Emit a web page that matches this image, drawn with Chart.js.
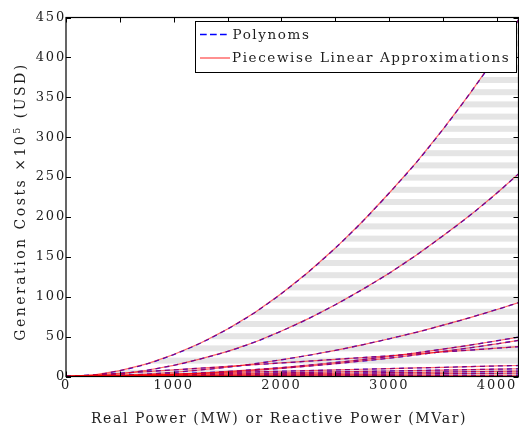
<!DOCTYPE html>
<html>
<head>
<meta charset="utf-8">
<script src="https://cdn.jsdelivr.net/npm/chart.js@4/dist/chart.umd.min.js"></script>
<style>
  html, body { margin: 0; padding: 0; background: #fff; }
  #wrap { width: 519px; height: 429px; }
</style>
</head>
<body>
<div id="wrap"><canvas id="cost" width="519" height="429"></canvas></div>
<script>
// Output levels (MW or MVar) at which each cost curve is sampled
const POWER = [0, 250, 500, 750, 1000, 1250, 1500, 1750, 2000, 2250, 2500, 2750, 3000, 3250, 3500, 3750, 4000, 4200];

// Generation costs (x10^5 USD) for each unit
const GEN_1  = [0, 1.7, 7.4, 15.8, 27.5, 42, 59.5, 80, 104, 131, 161, 194, 230, 268, 310, 355, 403, 447];
const GEN_2  = [0, 0.8, 3.4, 7.8, 14, 22, 31.5, 43, 57, 72.5, 90, 109, 129.5, 152, 176.5, 202, 230, 254];
const GEN_3  = [0, 0.3, 1.3, 3, 5.3, 8.2, 11.8, 16, 21, 26.6, 32.8, 39.7, 47.3, 55.4, 64.3, 73.8, 84, 92.6];
const GEN_4  = [0, 0.2, 0.7, 1.6, 2.8, 4.4, 6.3, 8.6, 11.2, 14.2, 17.5, 21.2, 25.2, 29.6, 34.3, 39.4, 44.8, 49.4];
const GEN_5  = [0, 0.2, 0.6, 1.4, 2.6, 4, 5.8, 7.8, 10.2, 13, 16, 19.4, 23, 27, 31.4, 36, 41, 45.2];
const GEN_6  = [0, 2, 4.1, 6.2, 8.3, 10.4, 12.6, 14.8, 17, 19.2, 21.5, 23.7, 26, 28.4, 30.8, 33.1, 35.5, 37.4];
const GEN_7  = [0, 0.8, 1.6, 2.5, 3.3, 4.1, 4.9, 5.8, 6.6, 7.4, 8.2, 9.1, 9.9, 10.7, 11.5, 12.4, 13.2, 13.8];
const GEN_8  = [0, 0.6, 1.2, 1.7, 2.3, 2.9, 3.5, 4, 4.6, 5.2, 5.8, 6.3, 6.9, 7.5, 8.1, 8.6, 9.2, 9.7];
const GEN_9  = [0, 0.4, 0.8, 1.2, 1.6, 2, 2.4, 2.8, 3.2, 3.6, 4, 4.4, 4.8, 5.2, 5.6, 6, 6.4, 6.7];
const GEN_10 = [0, 0.25, 0.5, 0.75, 1, 1.25, 1.5, 1.75, 2, 2.25, 2.5, 2.75, 3, 3.25, 3.5, 3.75, 4, 4.2];
const GEN_11 = [1, 1, 1.05, 1.1, 1.1, 1.15, 1.2, 1.2, 1.25, 1.3, 1.3, 1.35, 1.4, 1.4, 1.45, 1.5, 1.5, 1.55];
const GEN_12 = [0, 0.1, 0.1, 0.1, 0.1, 0.1, 0.1, 0.1, 0.1, 0.1, 0.1, 0.1, 0.1, 0.1, 0.1, 0.1, 0.1, 0.1];

const CURVES = [GEN_1, GEN_2, GEN_3, GEN_4, GEN_5, GEN_6, GEN_7, GEN_8, GEN_9, GEN_10, GEN_11, GEN_12];

// Axis ranges and ticks
const X_MAX = 4200;
const X_TICKS = [0, 500, 1000, 1500, 2000, 2500, 3000, 3500, 4000];
const X_LABELS = [0, 1000, 2000, 3000, 4000];
const Y_MAX = 450;
const Y_TICKS = [0, 50, 100, 150, 200, 250, 300, 350, 400, 450];

// Texts
const LEGEND_POLY = 'Polynoms';
const LEGEND_PWL = 'Piecewise Linear Approximations';
const X_TITLE = 'Real Power (MW) or Reactive Power (MVar)';
const Y_TITLE_PARTS = ['Generation Costs \u00d710', '5', ' (USD)'];

// Styles
const FONT = '"DejaVu Serif", "Liberation Serif", serif';
const TEXT_COLOR = '#1e1e1e';
const POLY_COLOR = '#0000ff';
const POLY_DASH = [5, 4];
const PWL_COLOR = 'rgba(255,0,0,0.58)';
const TICK_SPACING = '1.8px';

function stripePattern() {
  const c = document.createElement('canvas');
  c.width = 4; c.height = 61;
  const g = c.getContext('2d');
  g.fillStyle = 'rgb(229,229,229)';
  for (let k = 0; k < 5; k++) {
    const y0 = (16 + 12.2 * k) % 61;
    g.fillRect(0, y0, 4, 6);
    if (y0 + 6 > 61) g.fillRect(0, y0 - 61, 4, 6);
  }
  return g.createPattern(c, 'repeat');
}

const pts = vals => POWER.map((p, i) => ({ x: p, y: vals[i] }));

const datasets = [];
CURVES.forEach(v => datasets.push({
  label: LEGEND_PWL, data: pts(v), borderColor: PWL_COLOR, borderWidth: 1.2,
  pointRadius: 0, tension: 0, fill: false, order: 0
}));
CURVES.forEach(v => datasets.push({
  label: LEGEND_POLY, data: pts(v), borderColor: POLY_COLOR, borderWidth: 1.3,
  borderDash: POLY_DASH, pointRadius: 0, cubicInterpolationMode: 'monotone', fill: false, order: 1
}));
// light banded shading underneath the highest cost curve
datasets.push({
  label: 'band', data: pts(GEN_1), borderColor: 'rgba(0,0,0,0)', borderWidth: 1,
  pointRadius: 0, tension: 0, fill: 'origin', backgroundColor: stripePattern(), order: 2
});

function spacedText(ctx, text, x, y, font, spacing, align, baseline) {
  ctx.font = font;
  ctx.letterSpacing = spacing;
  ctx.textAlign = align;
  ctx.textBaseline = baseline;
  ctx.fillText(text, x, y);
}

const decorations = {
  id: 'decorations',
  beforeDraw(chart) { chart.ctx.letterSpacing = TICK_SPACING; },
  beforeDatasetsDraw(chart) { chart.ctx.letterSpacing = '0px'; },
  afterDatasetsDraw(chart) {
    const { ctx, chartArea: a, scales: { x, y } } = chart;
    ctx.save();
    ctx.strokeStyle = '#000';
    ctx.lineWidth = 1;
    ctx.beginPath();
    x.ticks.forEach(t => {
      const px = Math.round(x.getPixelForValue(t.value)) + 0.5;
      ctx.moveTo(px, a.bottom); ctx.lineTo(px, a.bottom - 5);
      ctx.moveTo(px, a.top); ctx.lineTo(px, a.top + 5);
    });
    y.ticks.forEach(t => {
      const py = Math.round(y.getPixelForValue(t.value)) + 0.5;
      ctx.moveTo(a.left, py); ctx.lineTo(a.left + 5, py);
      ctx.moveTo(a.right, py); ctx.lineTo(a.right - 5, py);
    });
    ctx.stroke();
    ctx.lineWidth = 1.2;
    ctx.strokeRect(a.left, a.top, a.right - a.left, a.bottom - a.top);
    ctx.restore();
  },
  afterDraw(chart) {
    const ctx = chart.ctx;
    ctx.save();

    // legend
    ctx.fillStyle = '#fff';
    ctx.fillRect(195.5, 21.5, 321, 51);
    ctx.strokeStyle = '#000';
    ctx.lineWidth = 1;
    ctx.strokeRect(195.5, 21.5, 321, 51);
    ctx.beginPath();
    ctx.setLineDash([6.7, 3.3]);
    ctx.strokeStyle = POLY_COLOR;
    ctx.lineWidth = 1.5;
    ctx.moveTo(200, 34.5); ctx.lineTo(227, 34.5);
    ctx.stroke();
    ctx.setLineDash([]);
    ctx.beginPath();
    ctx.strokeStyle = PWL_COLOR;
    ctx.lineWidth = 1.5;
    ctx.moveTo(200, 58); ctx.lineTo(230, 58);
    ctx.stroke();
    ctx.fillStyle = TEXT_COLOR;
    const legendFont = '13.5px ' + FONT;
    spacedText(ctx, LEGEND_POLY, 232.5, 35, legendFont, '1.6px', 'left', 'middle');
    spacedText(ctx, LEGEND_PWL, 232, 58.5, legendFont, '1.6px', 'left', 'middle');

    // x axis title
    spacedText(ctx, X_TITLE, 279, 423, '14px ' + FONT, '1.6px', 'center', 'alphabetic');

    // y axis title with a raised exponent
    ctx.save();
    ctx.translate(25, 201.5);
    ctx.rotate(-Math.PI / 2);
    const big = '14px ' + FONT, small = '9.5px ' + FONT, sp = '2.5px';
    ctx.font = big; ctx.letterSpacing = sp;
    const w0 = ctx.measureText(Y_TITLE_PARTS[0]).width;
    const w2 = ctx.measureText(Y_TITLE_PARTS[2]).width;
    ctx.font = small;
    const w1 = ctx.measureText(Y_TITLE_PARTS[1]).width;
    let cx = -(w0 + w1 + w2) / 2;
    spacedText(ctx, Y_TITLE_PARTS[0], cx, 0, big, sp, 'left', 'alphabetic');
    cx += w0;
    spacedText(ctx, Y_TITLE_PARTS[1], cx, -5.5, small, sp, 'left', 'alphabetic');
    cx += w1;
    spacedText(ctx, Y_TITLE_PARTS[2], cx, 0, big, sp, 'left', 'alphabetic');
    ctx.restore();

    ctx.restore();
  }
};

new Chart(document.getElementById('cost'), {
  type: 'line',
  data: { datasets },
  options: {
    responsive: false,
    animation: false,
    devicePixelRatio: 1,
    layout: { padding: { left: 0, right: 0.5, top: 17.5, bottom: 0 } },
    plugins: {
      legend: { display: false },
      tooltip: { enabled: false },
      filler: { drawTime: 'beforeDatasetsDraw' }
    },
    scales: {
      x: {
        type: 'linear', min: 0, max: X_MAX,
        afterBuildTicks: s => { s.ticks = X_TICKS.map(v => ({ value: v })); },
        afterFit: s => { s.height = 52.5; },
        grid: { display: false, drawTicks: false },
        border: { display: false },
        ticks: {
          autoSkip: false, maxRotation: 0, minRotation: 0, padding: 1,
          color: TEXT_COLOR, font: { family: FONT, size: 13 },
          callback: v => (X_LABELS.includes(v) ? String(v) : '')
        }
      },
      y: {
        type: 'linear', min: 0, max: Y_MAX,
        afterBuildTicks: s => { s.ticks = Y_TICKS.map(v => ({ value: v })); },
        afterFit: s => { s.width = 66; },
        grid: { display: false, drawTicks: false },
        border: { display: false },
        ticks: {
          padding: 0,
          color: TEXT_COLOR, font: { family: FONT, size: 13 }
        }
      }
    }
  },
  plugins: [decorations]
});
</script>
</body>
</html>
